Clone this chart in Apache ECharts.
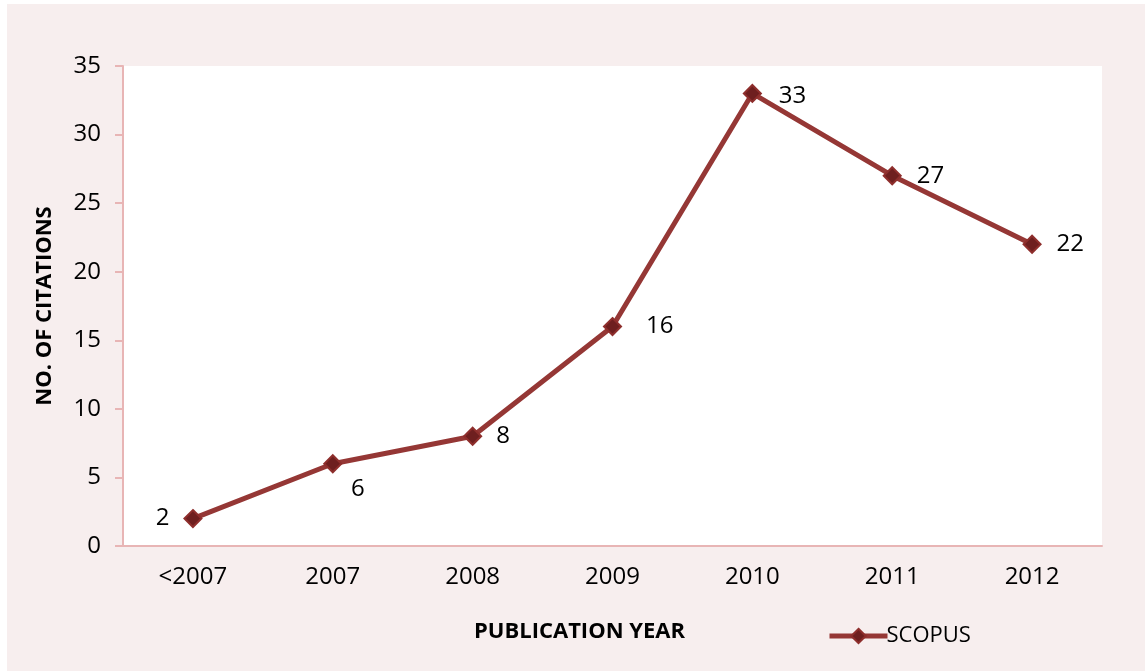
<!DOCTYPE html>
<html>
<head>
<meta charset="utf-8">
<script src="https://cdn.jsdelivr.net/npm/echarts@6/dist/echarts.min.js"></script>
<style>
  html, body { margin: 0; padding: 0; background: #fff; }
  #chart { width: 1145px; height: 671px; }
</style>
</head>
<body>
<div id="chart"></div>
<script>
// chart data
const years = ['<2007', '2007', '2008', '2009', '2010', '2011', '2012'];
const scopus = [2, 6, 8, 16, 33, 27, 22];
const yTicks = [0, 5, 10, 15, 20, 25, 30, 35];

// where each value label sits relative to its point
const labelStyles = [
  { position: 'left', distance: 14 },
  { position: 'bottom', distance: 4, offset: [25, 0] },
  { position: 'right', distance: 14 },
  { position: 'right', distance: 24 },
  { position: 'right', distance: 17, offset: [0, 3] },
  { position: 'right', distance: 15 },
  { position: 'right', distance: 15 }
];

const font = 'Open Sans, Liberation Sans, sans-serif';
const chart = echarts.init(document.getElementById('chart'));

chart.setOption({
  backgroundColor: '#fff',
  animation: false,
  graphic: [{
    type: 'rect',
    z: -10,
    shape: { x: 7, y: 4, width: 1138, height: 667 },
    style: { fill: '#F7EEEE' }
  }, {
    type: 'text',
    left: 474,
    top: 621,
    style: { text: 'PUBLICATION YEAR', font: 'bold 22px ' + font, fill: '#000' }
  }],
  legend: {
    left: 822,
    top: 620,
    itemWidth: 58,
    itemHeight: 18,
    itemGap: 4,
    lineStyle: { width: 5, color: '#953735' },
    textStyle: { fontSize: 22, fontFamily: font, color: '#000', padding: [0, 0, 0, -6] },
    data: ['SCOPUS']
  },
  grid: {
    left: 123, right: 43, top: 66, bottom: 125,
    show: true, backgroundColor: '#fff', borderWidth: 0
  },
  xAxis: {
    type: 'category',
    data: years,
    axisLine: { lineStyle: { color: '#E8B5B5', width: 2 } },
    axisTick: { show: false },
    axisLabel: { fontSize: 24, fontFamily: font, color: '#000', margin: 19 }
  },
  yAxis: {
    type: 'value',
    min: yTicks[0],
    max: yTicks[yTicks.length - 1],
    interval: yTicks[1] - yTicks[0],
    name: 'NO. OF CITATIONS',
    nameLocation: 'middle',
    nameGap: 67,
    nameTextStyle: { fontSize: 22, fontWeight: 'bold', fontFamily: font, color: '#000' },
    axisLine: { show: true, lineStyle: { color: '#E8B5B5', width: 2 } },
    axisTick: { show: true, length: 8, lineStyle: { color: '#E8B5B5', width: 2 } },
    splitLine: { show: false },
    axisLabel: { fontSize: 24, fontFamily: font, color: '#000', margin: 22 }
  },
  series: [{
    name: 'SCOPUS',
    type: 'line',
    data: scopus.map((v, i) => ({ value: v, label: labelStyles[i] })),
    symbol: 'diamond',
    symbolSize: 17,
    lineStyle: { color: '#953735', width: 5 },
    itemStyle: { color: '#6E1F1F', borderColor: '#8E2E2C', borderWidth: 2 },
    label: { show: true, fontSize: 24, fontFamily: font, color: '#000' }
  }]
});
</script>
</body>
</html>
